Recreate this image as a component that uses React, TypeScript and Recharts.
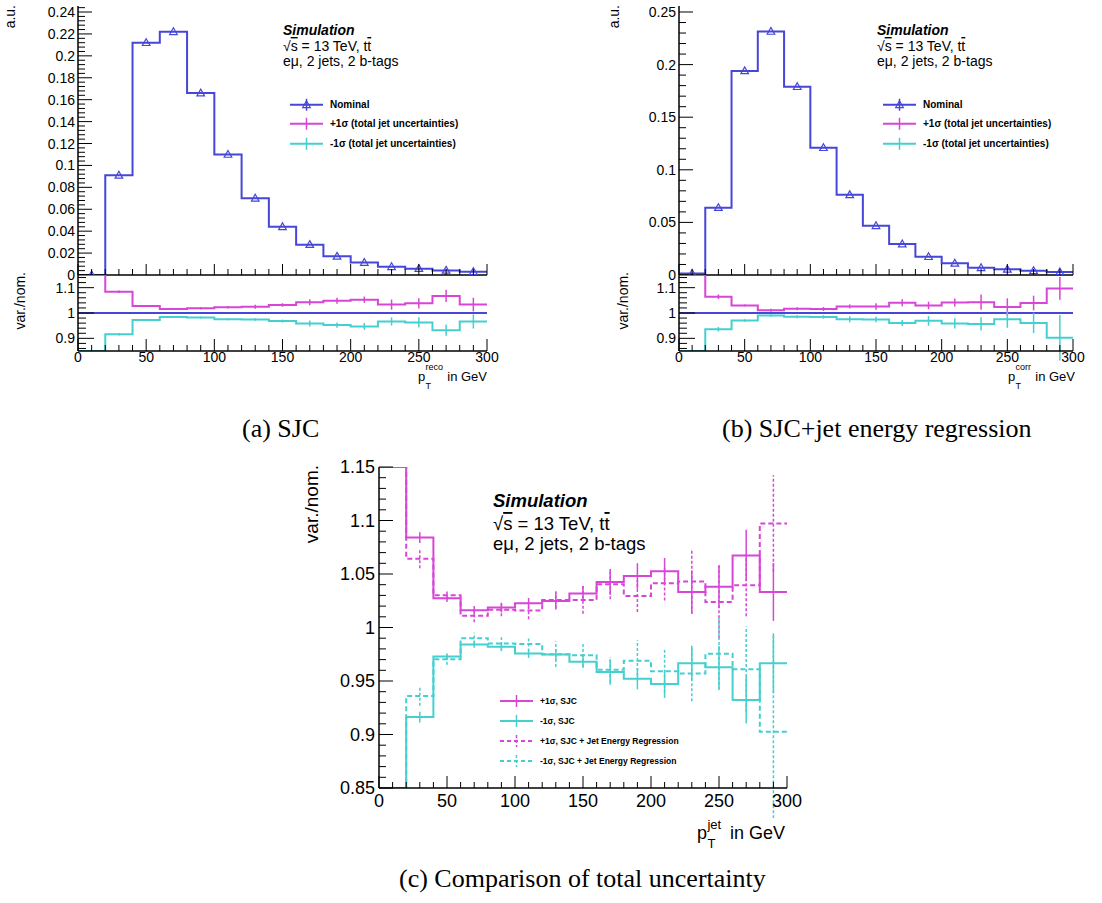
import React from "react";
import {
	ComposedChart,
	ErrorBar,
	Legend,
	Line,
	ReferenceLine,
	Scatter,
	XAxis,
	YAxis,
} from "recharts";

const BLUE = "#4646d8";
const MAGENTA = "#d846d8";
const CYAN = "#46cfcf";
const FONT = '"Liberation Sans", Arial, Helvetica, sans-serif';
const SERIF = '"Liberation Serif", "Times New Roman", serif';

// 20 GeV bins, 0..300
const binEdges = [0, 20, 40, 60, 80, 100, 120, 140, 160, 180, 200, 220, 240, 260, 280, 300];
const binCenters = [10, 30, 50, 70, 90, 110, 130, 150, 170, 190, 210, 230, 250, 270, 290];

// normalised nominal distributions (a.u.)
const nominalSJC = [0, 0.091, 0.212, 0.222, 0.166, 0.11, 0.07, 0.044, 0.0277, 0.017, 0.0114, 0.0075, 0.0058, 0.0042, 0.003];
const nominalJER = [0.0015, 0.064, 0.194, 0.2315, 0.179, 0.121, 0.0762, 0.0468, 0.0294, 0.0174, 0.0111, 0.0069, 0.0054, 0.0041, 0.0028];

// var./nom. ratios, SJC only
const upSJC = [1.15, 1.084, 1.0273, 1.0161, 1.0186, 1.0227, 1.0248, 1.0317, 1.0426, 1.0481, 1.0525, 1.0332, 1.0382, 1.0674, 1.0332];
const upSJCErr = [0, 0.005, 0.0035, 0.004, 0.0045, 0.005, 0.008, 0.007, 0.012, 0.012, 0.0125, 0.02, 0.02, 0.024, 0.027];
const downSJC = [0.85, 0.9163, 0.9728, 0.984, 0.9819, 0.9756, 0.9747, 0.9681, 0.9584, 0.9522, 0.9472, 0.9666, 0.9628, 0.9322, 0.9666];
const downSJCErr = [0, 0.005, 0.003, 0.003, 0.004, 0.004, 0.005, 0.006, 0.012, 0.01, 0.013, 0.016, 0.02, 0.022, 0.028];

// var./nom. ratios, SJC + jet energy regression
const upJER = [1.15, 1.0643, 1.0301, 1.0109, 1.0165, 1.0158, 1.0258, 1.0258, 1.0404, 1.0295, 1.0413, 1.0429, 1.0239, 1.0394, 1.0972];
const upJERErr = [0, 0.009, 0.004, 0.006, 0.006, 0.008, 0.008, 0.013, 0.014, 0.015, 0.016, 0.03, 0.034, 0.029, 0.045];
const downJER = [0.85, 0.9359, 0.9703, 0.99, 0.985, 0.9845, 0.975, 0.974, 0.9605, 0.969, 0.959, 0.957, 0.9755, 0.961, 0.9025];
const downJERErr = [0, 0.009, 0.005, 0.005, 0.006, 0.007, 0.012, 0.011, 0.012, 0.019, 0.02, 0.026, 0.034, 0.04, 0.09];

// tick labels
const xMajor = [0, 50, 100, 150, 200, 250, 300];
const auMajorA = [0, 0.02, 0.04, 0.06, 0.08, 0.1, 0.12, 0.14, 0.16, 0.18, 0.2, 0.22, 0.24];
const auMajorB = [0, 0.05, 0.1, 0.15, 0.2, 0.25];
const ratioMajor = [0.9, 1, 1.1];
const compMajor = [0.85, 0.9, 0.95, 1, 1.05, 1.1, 1.15];

const steps = (a: number, b: number, s: number) => {
	const out: number[] = [];
	for (let v = a; v <= b + 1e-9; v += s) out.push(Number(v.toFixed(4)));
	return out;
};
const xAll = steps(0, 300, 10);
const auAllA = steps(0, 0.244, 0.004);
const auAllB = steps(0, 0.25, 0.01);
const ratioAll = steps(0.86, 1.14, 0.02);
const compAll = steps(0.85, 1.15, 0.01);

const stepData = (vals: number[]) =>
	binEdges.map((x, i) => ({ x, y: vals[Math.min(i, vals.length - 1)] }));
const pointData = (vals: number[], errs?: number[]) =>
	binCenters.map((x, i) => ({ x, y: vals[i], err: errs ? errs[i] : 0 }));

type Side = "left" | "right" | "top" | "bottom";
type Box = { x0: number; y0: number; x1: number; y1: number };

const fmt = (v: number) => String(Number(v.toFixed(3)));
const isIn = (arr: number[], v: number) => arr.some((m) => Math.abs(m - v) < 1e-6);

// ROOT style: ticks drawn inside the frame, labels outside
function makeTick(side: Side, major: number[], len: [number, number], labels: boolean, fs: number, gap: number) {
	return (p: any) => {
		const { x, y } = p;
		const v = p.payload.value;
		const mj = isIn(major, v);
		const L = mj ? len[0] : len[1];
		let x2 = x;
		let y2 = y;
		if (side === "left") x2 = x + L;
		if (side === "right") x2 = x - L;
		if (side === "bottom") y2 = y - L;
		if (side === "top") y2 = y + L;
		return (
			<g>
				<line x1={x} y1={y} x2={x2} y2={y2} stroke="#000" strokeWidth={1} />
				{labels && mj && side === "left" && (
					<text x={x - gap} y={y} dy="0.36em" textAnchor="end" fontSize={fs} fontFamily={FONT} fill="#000">
						{fmt(v)}
					</text>
				)}
				{labels && mj && side === "bottom" && (
					<text x={x} y={y + gap} textAnchor="middle" fontSize={fs} fontFamily={FONT} fill="#000">
						{fmt(v)}
					</text>
				)}
			</g>
		);
	};
}

const PAD = { l: 60, r: 22, t: 12, b: 30 };
const YW = 50;
const XH = 22;
const frameLine = { stroke: "#000", strokeWidth: 1.5 };

interface PlotProps {
	box: Box;
	yDomain: [number, number];
	yTicks: number[];
	yMajor: number[];
	yLen: [number, number];
	xLen: [number, number];
	fs: number;
	xLabels: boolean;
	yGap: number;
	xGap: number;
	series: React.ReactNode[];
}

function Plot({ box, yDomain, yTicks, yMajor, yLen, xLen, fs, xLabels, yGap, xGap, series }: PlotProps) {
	const w = box.x1 - box.x0 + PAD.l + PAD.r;
	const h = box.y1 - box.y0 + PAD.t + PAD.b;
	return (
		<div style={{ position: "absolute", left: box.x0 - PAD.l, top: box.y0 - PAD.t }}>
			<ComposedChart
				width={w}
				height={h}
				margin={{ top: PAD.t, right: PAD.r, bottom: PAD.b - XH, left: PAD.l - YW }}
			>
				<XAxis
					type="number"
					dataKey="x"
					domain={[0, 300]}
					allowDataOverflow
					ticks={xAll}
					interval={0}
					height={XH}
					tickSize={0}
					tickMargin={0}
					tickLine={false}
					axisLine={frameLine}
					tick={makeTick("bottom", xMajor, xLen, xLabels, fs, xGap)}
				/>
				<XAxis
					xAxisId="top"
					orientation="top"
					type="number"
					domain={[0, 300]}
					allowDataOverflow
					ticks={xAll}
					interval={0}
					height={0}
					tickSize={0}
					tickMargin={0}
					tickLine={false}
					axisLine={frameLine}
					tick={makeTick("top", xMajor, xLen, false, fs, 0)}
				/>
				<YAxis
					type="number"
					domain={yDomain}
					allowDataOverflow
					ticks={yTicks}
					interval={0}
					width={YW}
					tickSize={0}
					tickMargin={0}
					tickLine={false}
					axisLine={frameLine}
					tick={makeTick("left", yMajor, yLen, true, fs, yGap)}
				/>
				<YAxis
					yAxisId="right"
					orientation="right"
					type="number"
					domain={yDomain}
					allowDataOverflow
					ticks={yTicks}
					interval={0}
					width={0}
					tickSize={0}
					tickMargin={0}
					tickLine={false}
					axisLine={frameLine}
					tick={makeTick("right", yMajor, yLen, false, fs, 0)}
				/>
				{series}
			</ComposedChart>
		</div>
	);
}

const triangleShape = (p: any) => {
	const { cx, cy } = p;
	if (cx == null || cy == null) return <g />;
	return (
		<path
			d={`M${cx},${cy - 4} L${cx + 3.8},${cy + 2.8} L${cx - 3.8},${cy + 2.8} Z`}
			fill="none"
			stroke={BLUE}
			strokeWidth={1.2}
		/>
	);
};
const noShape = () => <g />;

type LegRow = { label: string; color: string; dashed?: boolean; marker?: boolean };

function LegendBox({ rows, fs, rowH }: { rows: LegRow[]; fs: number; rowH: number }) {
	const sw = 33;
	const c = rowH / 2;
	return (
		<div style={{ fontFamily: FONT, fontWeight: 700, fontSize: fs, color: "#000" }}>
			{rows.map((r, i) => (
				<div key={i} style={{ display: "flex", alignItems: "center", height: rowH }}>
					<svg width={sw} height={rowH} style={{ flex: "none", marginRight: 7 }}>
						<line x1={0} x2={sw} y1={c} y2={c} stroke={r.color} strokeWidth={2} strokeDasharray={r.dashed ? "4 3" : undefined} />
						<line x1={sw / 2} x2={sw / 2} y1={c - 6} y2={c + 6} stroke={r.color} strokeWidth={1.5} strokeDasharray={r.dashed ? "3 2" : undefined} />
						{r.marker && (
							<path
								d={`M${sw / 2},${c - 4} L${sw / 2 + 3.8},${c + 2.8} L${sw / 2 - 3.8},${c + 2.8} Z`}
								fill="none"
								stroke={r.color}
								strokeWidth={1.2}
							/>
						)}
					</svg>
					<span style={{ whiteSpace: "nowrap" }}>{r.label}</span>
				</div>
			))}
		</div>
	);
}

const legendTop: LegRow[] = [
	{ label: "Nominal", color: BLUE, marker: true },
	{ label: "+1σ (total jet uncertainties)", color: MAGENTA },
	{ label: "-1σ (total jet uncertainties)", color: CYAN },
];
const legendComp: LegRow[] = [
	{ label: "+1σ, SJC", color: MAGENTA },
	{ label: "-1σ, SJC", color: CYAN },
	{ label: "+1σ, SJC + Jet Energy Regression", color: MAGENTA, dashed: true },
	{ label: "-1σ, SJC + Jet Energy Regression", color: CYAN, dashed: true },
];

function histSeries(vals: number[], box: Box, legendX: number) {
	return [
		<Line key="nom" data={stepData(vals)} dataKey="y" type="stepAfter" stroke={BLUE} strokeWidth={2} dot={false} isAnimationActive={false} />,
		<Scatter key="pts" data={pointData(vals)} dataKey="y" shape={triangleShape} isAnimationActive={false} />,
		<Legend
			key="leg"
			layout="vertical"
			align="center"
			verticalAlign="middle"
			wrapperStyle={{ left: legendX - (box.x0 - PAD.l), top: 94.5 - (box.y0 - PAD.t), width: 230 }}
			content={() => <LegendBox rows={legendTop} fs={10} rowH={19.5} />}
		/>,
	];
}

function ratioSeries(key: string, vals: number[], errs: number[], color: string, dashed: boolean) {
	return [
		<Line
			key={key + "l"}
			data={stepData(vals)}
			dataKey="y"
			type="stepAfter"
			stroke={color}
			strokeWidth={2}
			strokeDasharray={dashed ? "5 3" : undefined}
			dot={false}
			isAnimationActive={false}
		/>,
		<Scatter key={key + "e"} data={pointData(vals, errs)} dataKey="y" shape={noShape} isAnimationActive={false}>
			<ErrorBar dataKey="err" direction="y" width={0} stroke={color} strokeWidth={1.5} strokeDasharray={dashed ? "3 2" : undefined} />
		</Scatter>,
	];
}

const boxA = { x0: 78, y0: 6, x1: 487, y1: 275 };
const boxAr = { x0: 78, y0: 275, x1: 487, y1: 351 };
const boxB = { x0: 679, y0: 6, x1: 1073, y1: 275 };
const boxBr = { x0: 679, y0: 275, x1: 1073, y1: 351 };
const boxC = { x0: 379, y0: 467, x1: 787, y1: 788 };

function SimText({ x, y, fs, d1, d2 }: { x: number; y: number; fs: number; d1: number; d2: number }) {
	return (
		<g fontSize={fs} fill="#000" fontFamily={FONT}>
			<text x={x} y={y} fontWeight="bold" fontStyle="italic">
				Simulation
			</text>
			<text x={x} y={y + d1}>
				√<tspan style={{ textDecoration: "overline" }}>s</tspan> = 13 TeV, t
				<tspan style={{ textDecoration: "overline" }}>t</tspan>
			</text>
			<text x={x} y={y + d2}>
				eμ, 2 jets, 2 b-tags
			</text>
		</g>
	);
}

function PtTitle({ x, right, y, fs, sfs, sup, up, down }: { x: number; right: number; y: number; fs: number; sfs: number; sup: string; up: number; down: number }) {
	return (
		<g fontFamily={FONT} fill="#000">
			<text x={x} y={y} fontSize={fs}>p</text>
			<text x={x + fs * 0.58} y={y - up} fontSize={sfs}>{sup}</text>
			<text x={x + fs * 0.58} y={y + down} fontSize={sfs}>T</text>
			<text x={right} y={y} fontSize={fs} textAnchor="end">in GeV</text>
		</g>
	);
}

function Overlay() {
	return (
		<svg width={1102} height={903} style={{ position: "absolute", left: 0, top: 0, pointerEvents: "none" }}>
			<g fontFamily={FONT} fill="#000">
				<text transform="translate(15,5) rotate(-90)" textAnchor="end" fontSize={14}>a.u.</text>
				<text transform="translate(25,272) rotate(-90)" textAnchor="end" fontSize={14}>var./nom.</text>
				<text transform="translate(619,5) rotate(-90)" textAnchor="end" fontSize={14}>a.u.</text>
				<text transform="translate(628,272) rotate(-90)" textAnchor="end" fontSize={14}>var./nom.</text>
				<text transform="translate(318,465) rotate(-90)" textAnchor="end" fontSize={19}>var./nom.</text>
			</g>
			<SimText x={283} y={35} fs={14} d1={16} d2={31} />
			<SimText x={877} y={35} fs={14} d1={16} d2={31} />
			<SimText x={493} y={507} fs={18.5} d1={23} d2={43} />
			<PtTitle x={418} right={487} y={381} fs={13} sfs={9} sup="reco" up={11} down={8} />
			<PtTitle x={1008} right={1075} y={381} fs={13} sfs={9} sup="corr" up={11} down={8} />
			<PtTitle x={697} right={785} y={839} fs={18} sfs={13} sup="jet" up={10} down={9} />
			<g fontFamily={SERIF} fontSize={26} fill="#000">
				<text x={242} y={437}>(a) SJC</text>
				<text x={722} y={437}>(b) SJC+jet energy regression</text>
				<text x={399} y={887}>(c) Comparison of total uncertainty</text>
			</g>
		</svg>
	);
}

export default function App() {
	return (
		<div style={{ position: "absolute", left: 0, top: 0, width: 1102, height: 903, background: "#fff", fontFamily: FONT }}>
			{/* (a) SJC */}
			<Plot
				box={boxA}
				yDomain={[0, 0.2455]}
				yTicks={auAllA}
				yMajor={auMajorA}
				yLen={[14, 7]}
				xLen={[11, 6]}
				fs={14}
				xLabels={false}
				yGap={3}
				xGap={11}
				series={histSeries(nominalSJC, boxA, 290)}
			/>
			<Plot
				box={boxAr}
				yDomain={[0.85, 1.15]}
				yTicks={ratioAll}
				yMajor={ratioMajor}
				yLen={[16, 8]}
				xLen={[12, 6]}
				fs={14}
				xLabels
				yGap={3}
				xGap={11}
				series={[
					<ReferenceLine key="one" y={1} stroke={BLUE} strokeWidth={2} />,
					...ratioSeries("u", upSJC, upSJCErr, MAGENTA, false),
					...ratioSeries("d", downSJC, downSJCErr, CYAN, false),
				]}
			/>
			{/* (b) SJC + jet energy regression */}
			<Plot
				box={boxB}
				yDomain={[0, 0.2557]}
				yTicks={auAllB}
				yMajor={auMajorB}
				yLen={[14, 7]}
				xLen={[11, 6]}
				fs={14}
				xLabels={false}
				yGap={3}
				xGap={11}
				series={histSeries(nominalJER, boxB, 883)}
			/>
			<Plot
				box={boxBr}
				yDomain={[0.85, 1.15]}
				yTicks={ratioAll}
				yMajor={ratioMajor}
				yLen={[16, 8]}
				xLen={[12, 6]}
				fs={14}
				xLabels
				yGap={3}
				xGap={11}
				series={[
					<ReferenceLine key="one" y={1} stroke={BLUE} strokeWidth={2} />,
					...ratioSeries("u", upJER, upJERErr, MAGENTA, false),
					...ratioSeries("d", downJER, downJERErr, CYAN, false),
				]}
			/>
			{/* (c) comparison */}
			<Plot
				box={boxC}
				yDomain={[0.85, 1.15]}
				yTicks={compAll}
				yMajor={compMajor}
				yLen={[14, 7]}
				xLen={[12, 6]}
				fs={18}
				xLabels
				yGap={4}
				xGap={19}
				series={[
					...ratioSeries("uj", upJER, upJERErr, MAGENTA, true),
					...ratioSeries("dj", downJER, downJERErr, CYAN, true),
					...ratioSeries("us", upSJC, upSJCErr, MAGENTA, false),
					...ratioSeries("ds", downSJC, downSJCErr, CYAN, false),
					<Legend
						key="leg"
						layout="vertical"
						align="center"
						verticalAlign="middle"
						wrapperStyle={{ left: 500 - (boxC.x0 - PAD.l), top: 691 - (boxC.y0 - PAD.t), width: 260 }}
						content={() => <LegendBox rows={legendComp} fs={8.5} rowH={20} />}
					/>,
				]}
			/>
			<Overlay />
		</div>
	);
}
